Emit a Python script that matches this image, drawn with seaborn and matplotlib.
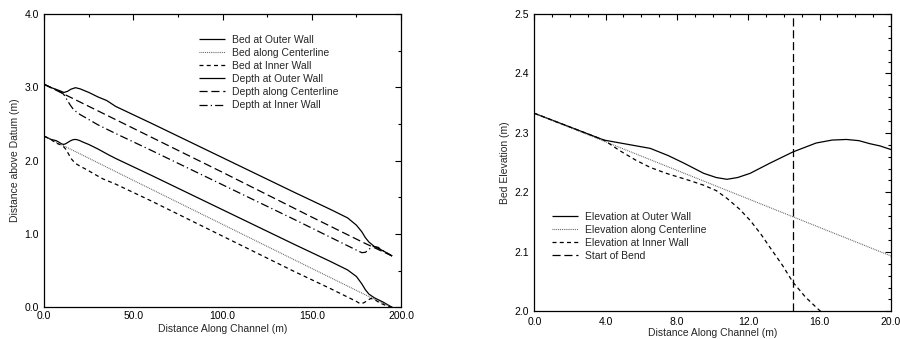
import matplotlib
matplotlib.use("Agg")
import matplotlib.pyplot as plt
from matplotlib.ticker import MultipleLocator, FormatStrFormatter
import seaborn as sns
import pandas as pd

# ---- bed profiles (distance along channel in m, elevation in m) ----
outer_bed_x = [0, 3.9, 5.2, 6.5, 7.5, 8.4, 9.5, 10.2, 10.8, 11.4, 12.1, 13.2, 14.5,
               15.8, 16.7, 17.5, 18.2, 18.8, 19.4, 20,
               22, 25, 30, 33, 36, 40, 60, 100, 140, 160, 170, 175, 178, 180, 182,
               185, 190, 195]
outer_bed_y = [2.333, 2.288, 2.281, 2.274, 2.262, 2.249, 2.232, 2.225, 2.222, 2.225,
               2.232, 2.249, 2.268, 2.283, 2.288, 2.289, 2.287, 2.282, 2.278, 2.272,
               2.25, 2.22, 2.16, 2.12, 2.08, 2.03, 1.80, 1.33,
               0.86, 0.63, 0.51, 0.42, 0.32, 0.24, 0.18, 0.13, 0.07, 0.0]

center_bed_x = [0, 4, 8, 12, 16, 20, 50, 100, 150, 185, 195]
center_bed_y = [2.333, 2.285, 2.237, 2.189, 2.141, 2.093, 1.73, 1.13, 0.53, 0.11, 0.0]

inner_bed_x = [0, 3.9, 4.8, 5.7, 6.5, 7.4, 8.7, 9.5, 10.2, 10.8, 11.5, 12.1, 12.7,
               13.2, 13.9, 14.5, 15.2, 15.9, 17, 18, 20,
               22, 25, 30, 33, 36, 40, 60, 100, 140, 160, 170, 175, 177, 179, 181,
               183, 185, 188, 192, 195]
inner_bed_y = [2.333, 2.288, 2.270, 2.254, 2.242, 2.232, 2.220, 2.212, 2.203, 2.190,
               2.172, 2.153, 2.130, 2.108, 2.078, 2.049, 2.024, 2.004, 1.975, 1.955,
               1.925, 1.90, 1.86, 1.79, 1.75, 1.72, 1.68, 1.45,
               0.97, 0.49, 0.26, 0.14, 0.08, 0.05, 0.06, 0.09, 0.12, 0.11, 0.06, 0.02,
               0.0]

# ---- water surface profiles ----
outer_depth_x = [0, 4, 8, 11, 13, 15, 17.5, 20, 25, 30, 35, 40, 60, 100, 140, 160,
                 170, 175, 178, 180, 182, 185, 190, 195]
outer_depth_y = [3.04, 2.995, 2.96, 2.93, 2.945, 2.975, 2.995, 2.98, 2.93, 2.87, 2.82,
                 2.74, 2.51, 2.04, 1.57, 1.34, 1.22, 1.12, 1.03, 0.95, 0.89, 0.83,
                 0.77, 0.70]

center_depth_x = [0, 50, 100, 150, 180, 195]
center_depth_y = [3.04, 2.44, 1.84, 1.23, 0.87, 0.70]

inner_depth_x = [0, 4, 8, 10, 11, 12, 13, 14.5, 16, 18, 20, 25, 30, 35, 40, 60, 100,
                 140, 160, 170, 175, 178, 180, 182, 184, 187, 190, 195]
inner_depth_y = [3.04, 2.995, 2.95, 2.925, 2.90, 2.86, 2.82, 2.76, 2.71, 2.665, 2.63,
                 2.56, 2.49, 2.43, 2.37, 2.14, 1.67, 1.20, 0.96, 0.84, 0.78, 0.745,
                 0.75, 0.79, 0.83, 0.82, 0.77, 0.70]

bend_start = 14.5

sns.set_style("white")
plt.rcParams["font.family"] = ["Liberation Sans", "DejaVu Sans"]
plt.rcParams["font.size"] = 7.5
plt.rcParams["axes.linewidth"] = 0.9

fig = plt.figure(figsize=(9.0, 3.39), dpi=100)
ax1 = fig.add_axes([0.0492, 0.0935, 0.3964, 0.8652])
ax2 = fig.add_axes([0.5937, 0.0817, 0.3963, 0.8770])

SOLID = (0, ())
DOT = (0, (0.8, 0.9))
DASH = (0, (3.2, 2.6))
LDASH = (0, (6.5, 3))
DASHDOT = (0, (6.5, 2.5, 1, 2.5))


def draw(ax, xs, ys, label, ls, color="black", lw=0.9):
    df = pd.DataFrame({"x": xs, "y": ys})
    sns.lineplot(data=df, x="x", y="y", ax=ax, color=color, lw=lw,
                 linestyle=ls, label=label, sort=False, estimator=None)


# left panel: bed and water surface along the full channel
draw(ax1, outer_bed_x, outer_bed_y, "Bed at Outer Wall", SOLID)
draw(ax1, center_bed_x, center_bed_y, "Bed along Centerline", DOT, color="0.35", lw=0.8)
draw(ax1, inner_bed_x, inner_bed_y, "Bed at Inner Wall", DASH)
draw(ax1, outer_depth_x, outer_depth_y, "Depth at Outer Wall", SOLID)
draw(ax1, center_depth_x, center_depth_y, "Depth along Centerline", LDASH)
draw(ax1, inner_depth_x, inner_depth_y, "Depth at Inner Wall", DASHDOT)

ax1.set_xlim(0, 200)
ax1.set_ylim(0, 4.0)
ax1.xaxis.set_major_locator(MultipleLocator(50))
ax1.xaxis.set_minor_locator(MultipleLocator(25))
ax1.yaxis.set_major_locator(MultipleLocator(1.0))
ax1.yaxis.set_minor_locator(MultipleLocator(0.5))
ax1.set_xlabel("Distance Along Channel (m)", labelpad=2)
ax1.set_ylabel("Distance above Datum (m)", labelpad=3)

# right panel: detail of the bed near the bend entrance
draw(ax2, outer_bed_x, outer_bed_y, "Elevation at Outer Wall", SOLID)
draw(ax2, center_bed_x, center_bed_y, "Elevation along Centerline", DOT, color="0.35", lw=0.8)
draw(ax2, inner_bed_x, inner_bed_y, "Elevation at Inner Wall", DASH)
draw(ax2, [bend_start, bend_start], [2.0, 2.5], "Start of Bend", LDASH)

ax2.set_xlim(0, 20)
ax2.set_ylim(2.0, 2.5)
ax2.xaxis.set_major_locator(MultipleLocator(4.0))
ax2.xaxis.set_minor_locator(MultipleLocator(1.0))
ax2.yaxis.set_major_locator(MultipleLocator(0.1))
ax2.yaxis.set_minor_locator(MultipleLocator(0.02))
ax2.set_xlabel("Distance Along Channel (m)", labelpad=0.5)
ax2.set_ylabel("Bed Elevation (m)", labelpad=3)

for ax in (ax1, ax2):
    ax.xaxis.set_major_formatter(FormatStrFormatter("%.1f"))
    ax.yaxis.set_major_formatter(FormatStrFormatter("%.1f"))
    ax.tick_params(which="both", direction="in", top=True, right=True,
                   colors="black", labelsize=7.5, width=0.8)
    ax.tick_params(which="major", length=4)
    ax.tick_params(which="minor", length=2.5)
    ax.tick_params(axis="y", which="major", pad=4)

ax1.tick_params(axis="x", which="major", pad=2.5)
ax2.tick_params(axis="x", which="major", pad=4)

for ax in (ax1, ax2):
    for s in ax.spines.values():
        s.set_color("black")
        s.set_visible(True)

ax1.legend(loc="upper left", bbox_to_anchor=(0.433, 0.93), frameon=False,
           fontsize=7.5, handlelength=2.5, handletextpad=0.7, labelspacing=0.3,
           borderpad=0, borderaxespad=0)
ax2.legend(loc="upper left", bbox_to_anchor=(0.049, 0.335), frameon=False,
           fontsize=7.5, handlelength=2.5, handletextpad=0.7, labelspacing=0.3,
           borderpad=0, borderaxespad=0)

fig.savefig("out.png", dpi=100)
